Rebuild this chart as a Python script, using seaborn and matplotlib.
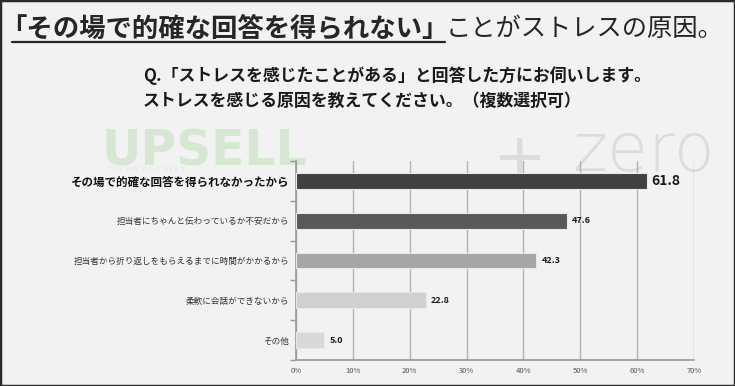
import matplotlib.pyplot as plt
import numpy as np
import seaborn as sns
from matplotlib.lines import Line2D
from matplotlib.patches import Rectangle

categories = [
    "その場で的確な回答を得られなかったから",
    "担当者にちゃんと伝わっているか不安だから",
    "担当者から折り返しをもらえるまでに時間がかかるから",
    "柔軟に会話ができないから",
    "その他",
]
values = [61.8, 47.6, 42.3, 22.8, 5.0]
bar_colors = ["#404040", "#595959", "#a6a6a6", "#d0d0d0", "#d9d9d9"]
x_ticks = [0, 10, 20, 30, 40, 50, 60, 70]

title_main = "「その場で的確な回答を得られない」"
title_rest = "ことがストレスの原因。"
question = ["Q.「ストレスを感じたことがある」と回答した方にお伺いします。",
            "ストレスを感じる原因を教えてください。（複数選択可）"]

sns.set_theme(style="white")
plt.rcParams["font.family"] = ["Noto Sans CJK JP", "DejaVu Sans"]

W, H = 735, 386
fig = plt.figure(figsize=(W / 100, H / 100), dpi=100)
fig.patch.set_facecolor("#f2f2f2")
fig.add_artist(Rectangle((0, 0), 1, 1, transform=fig.transFigure, fill=False,
                         edgecolor="#2b2b2b", linewidth=2.5))

# faint watermark behind the chart
fig.text(101 / W, 1 - 165 / H, "UPSELL", fontsize=35, fontweight="bold",
         family="DejaVu Sans", color="#d6e7d2", zorder=-1, va="baseline")
fig.text(106 / W, 1 - 166 / H, "T E C H N O L O G I E S", fontsize=5,
         family="DejaVu Sans", color="#e4e4e4", zorder=-1, va="top")
fig.text(492 / W, 1 - 160 / H, "+", fontsize=46, family="DejaVu Sans",
         color="#dcdcdc", zorder=-1, va="center")
fig.text(572 / W, 1 - 171 / H, "zero", fontsize=48, family="DejaVu Sans",
         color="#dcdcdc", zorder=-1, va="baseline", fontweight="light")

ax = fig.add_axes([0.4027, 0.0674, 0.5415, 0.5156])
ax.patch.set_alpha(0)
sns.barplot(x=values, y=categories, hue=categories, palette=bar_colors,
            legend=False, width=0.4, orient="h", edgecolor="#e8e8e8",
            linewidth=0.8, ax=ax, zorder=3)

for i, cont in enumerate(ax.containers):
    big = i == 0
    ax.bar_label(cont, fmt="%.1f", padding=3 if big else 4,
                 fontsize=10 if big else 6.5, fontweight="bold", color="#1a1a1a")

ax.set_xlim(0, 70)
ax.set_ylim(4.5, -0.5)
ax.set_xticks(x_ticks)
ax.set_xticklabels([f"{t}%" for t in x_ticks], fontsize=5.5, color="#555555")
ax.tick_params(axis="x", length=0, pad=5)
ax.grid(axis="x", color="#b3b3b3", linewidth=1, zorder=0)
ax.set_axisbelow(True)

ax.set_yticks(range(len(categories)))
ax.set_yticks(np.arange(-0.5, len(categories), 1), minor=True)
ax.tick_params(axis="y", which="major", length=0, pad=5)
ax.tick_params(axis="y", which="minor", length=4, width=1, color="#999999", left=True)
for i, lab in enumerate(ax.get_yticklabels()):
    if i == 0:
        lab.set_fontsize(8.3)
        lab.set_fontweight("bold")
        lab.set_color("#111111")
    else:
        lab.set_fontsize(6.2)
        lab.set_color("#333333")
ax.set_xlabel("")
ax.set_ylabel("")

sns.despine(ax=ax)
for side in ("left", "bottom"):
    ax.spines[side].set_color("#999999")
    ax.spines[side].set_linewidth(1.2)

# title: bold underlined part followed by normal part
base_y = 1 - 36 / H
t1 = fig.text(0.0, base_y, title_main, fontsize=19, fontweight="bold",
              color="#262626", va="baseline")
fig.canvas.draw()
bb = t1.get_window_extent().transformed(fig.transFigure.inverted())
rest_x = bb.x1 - 3 / W
fig.text(rest_x, base_y, title_rest, fontsize=18.2, color="#262626", va="baseline")
fig.add_artist(Line2D([12 / W, rest_x], [1 - 41.5 / H, 1 - 41.5 / H],
                      transform=fig.transFigure, color="#262626", linewidth=1.6))

fig.text(143 / W, 1 - 76 / H, question[0], fontsize=12.2, fontweight="bold",
         color="#1a1a1a", va="center")
fig.text(143 / W, 1 - 101 / H, question[1], fontsize=12.2, fontweight="bold",
         color="#1a1a1a", va="center")

fig.savefig("out.png", dpi=100, facecolor=fig.get_facecolor())
